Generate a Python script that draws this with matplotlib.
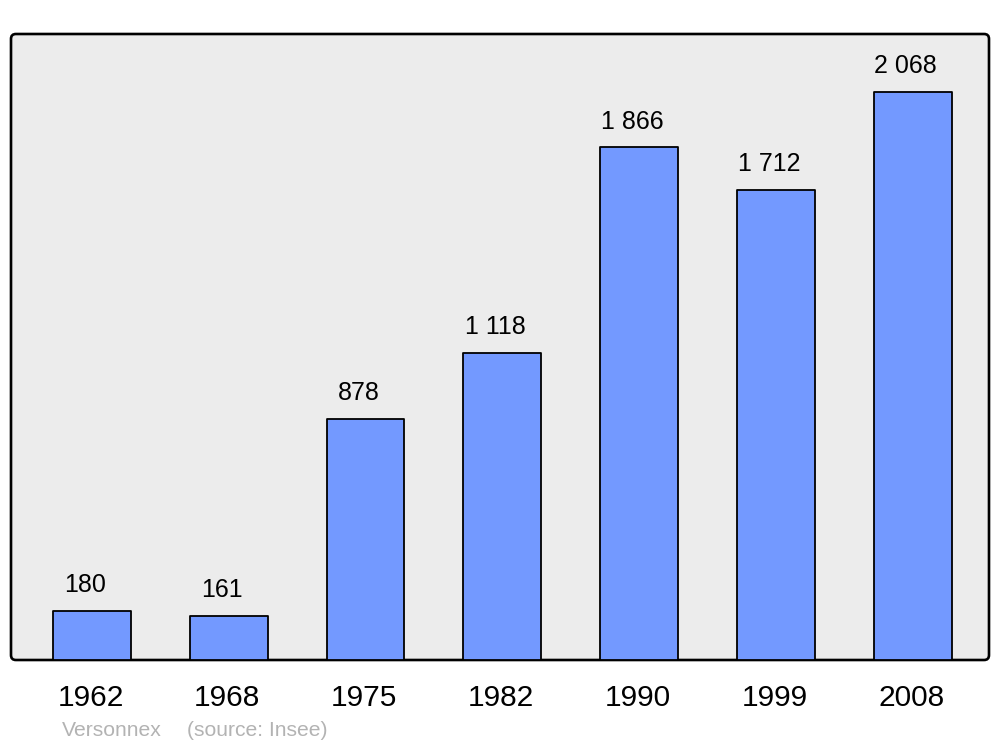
import matplotlib.pyplot as plt
from matplotlib.patches import FancyBboxPatch

plt.rcParams['font.family'] = ['Liberation Sans', 'DejaVu Sans']

# données
years = ["1962", "1968", "1975", "1982", "1990", "1999", "2008"]
population = [180, 161, 878, 1118, 1866, 1712, 2068]
value_labels = ["180", "161", "878", "1 118", "1 866", "1 712", "2 068"]
commune = "Versonnex"
source = "(source: Insee)"

fig = plt.figure(figsize=(10, 7.47), dpi=100)
ax = fig.add_axes([11 / 1000, 1 - 660 / 747, 978 / 1000, 626 / 747])

# fond gris arrondi
bg = FancyBboxPatch((0, 0), 1, 1, boxstyle="round,pad=0,rounding_size=0.005",
                    mutation_aspect=978 / 626, transform=ax.transAxes,
                    facecolor="#ececec", edgecolor="black", linewidth=1.9,
                    clip_on=False, zorder=0)
ax.add_patch(bg)

x = list(range(len(years)))
ax.bar(x, population, width=0.57, color="#7399ff", edgecolor="black",
       linewidth=1.3, joinstyle="round", zorder=2)

for xi, v, lab in zip(x, population, value_labels):
    # étiquettes décalées un peu à gauche comme l'original
    ax.annotate(lab, (xi, v), xytext=(-5, 18.5), textcoords="offset points",
                ha="center", va="center", fontsize=18, color="black")
    ax.annotate(years[xi], (xi, 0), xytext=(-1, -27.5), textcoords="offset points",
                ha="center", va="center", fontsize=21.5, color="black",
                annotation_clip=False)

ax.set_xlim(-0.592, 6.559)
ax.set_ylim(0, 2279)
ax.axis("off")

fig.text(62 / 1000, 1 - 731 / 747, commune, fontsize=15.2, color="#b3b3b3",
         ha="left", va="center")
fig.text(187 / 1000, 1 - 731 / 747, source, fontsize=15.2, color="#b3b3b3",
         ha="left", va="center")

plt.savefig("out.png", dpi=100)
